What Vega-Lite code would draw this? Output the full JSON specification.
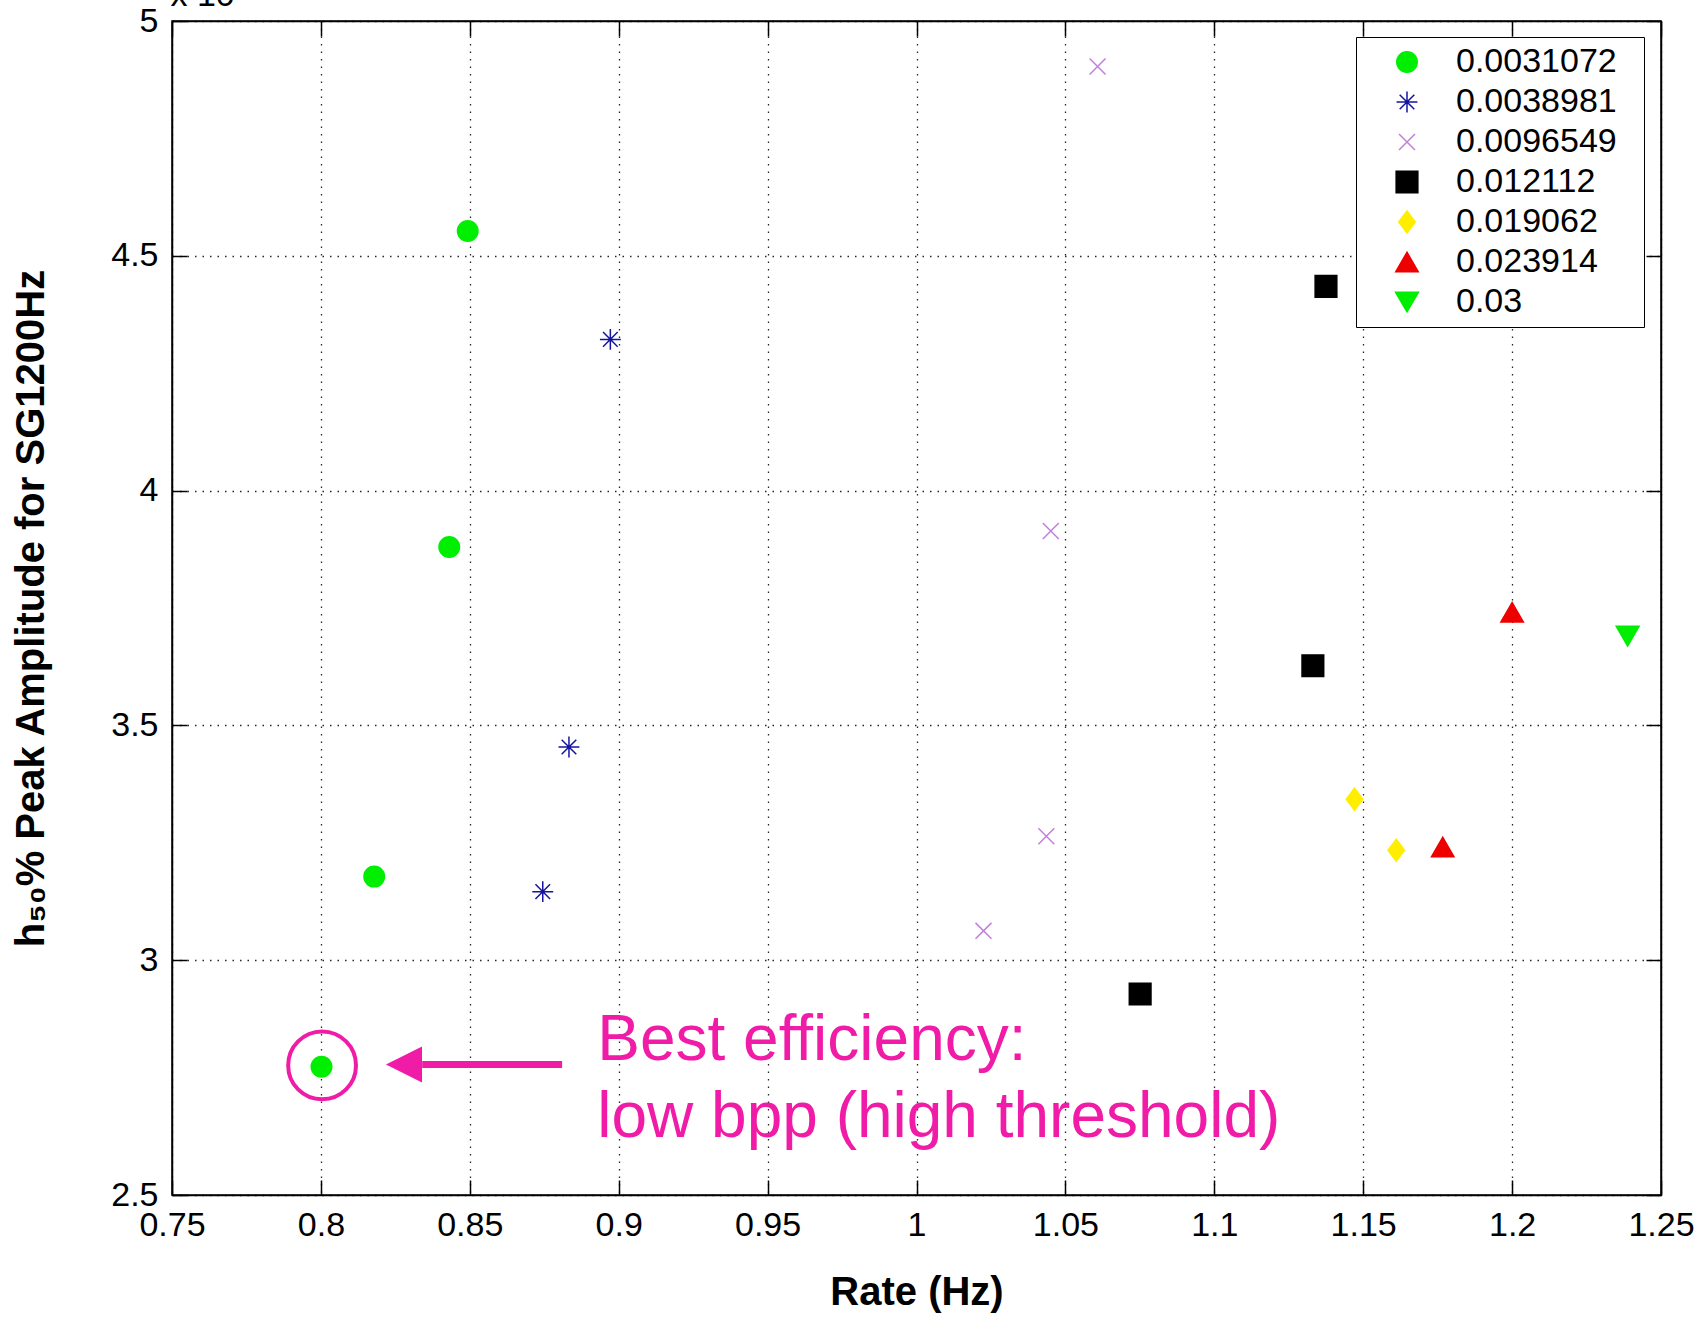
{
  "$schema": "https://vega.github.io/schema/vega-lite/v6.json",
  "width": 1489,
  "height": 1174,
  "autosize": {"type": "none"},
  "padding": {"left": 172, "top": 21, "right": 44, "bottom": 126},
  "background": "white",
  "config": {
    "view": {"stroke": "black", "strokeWidth": 1.5},
    "font": "Liberation Sans",
    "axis": {
      "domainColor": "black", "domainWidth": 1.5,
      "tickColor": "black", "tickWidth": 1.5,
      "labelColor": "black", "labelFontSize": 34, "labelFont": "Liberation Sans",
      "titleFont": "Liberation Sans", "titleFontSize": 40, "titleFontWeight": "bold", "titleColor": "black",
      "gridColor": "black", "gridDash": [1.5, 6], "gridWidth": 1.3, "gridOpacity": 0.85,
      "labelFlush": false, "labelOverlap": false
    },
    "legend": {
      "orient": "none", "legendX": 1184, "legendY": 16,
      "strokeColor": "black", "fillColor": "white",
      "padding": 8, "rowPadding": 6,
      "labelFontSize": 34, "labelFont": "Liberation Sans", "labelColor": "black", "labelLimit": 500,
      "symbolOffset": 26, "labelOffset": 32, "symbolStrokeWidth": 1.5,
      "titleOrient": "right", "titleColor": "white", "titleFontSize": 34, "titlePadding": 9, "titleAngle": 0
    }
  },
  "datasets": {
    "pts": [
      {"bpp": "0.0031072", "rate": 0.8493, "h": 4.553},
      {"bpp": "0.0031072", "rate": 0.8431, "h": 3.880},
      {"bpp": "0.0031072", "rate": 0.8179, "h": 3.178},
      {"bpp": "0.0031072", "rate": 0.8002, "h": 2.773},
      {"bpp": "0.0038981", "rate": 0.8972, "h": 4.322},
      {"bpp": "0.0038981", "rate": 0.8833, "h": 3.454},
      {"bpp": "0.0038981", "rate": 0.8745, "h": 3.146},
      {"bpp": "0.0096549", "rate": 1.0608, "h": 4.903},
      {"bpp": "0.0096549", "rate": 1.0451, "h": 3.914},
      {"bpp": "0.0096549", "rate": 1.0436, "h": 3.264},
      {"bpp": "0.0096549", "rate": 1.0225, "h": 3.0625},
      {"bpp": "0.012112", "rate": 1.1375, "h": 4.435},
      {"bpp": "0.012112", "rate": 1.1331, "h": 3.627},
      {"bpp": "0.012112", "rate": 1.0751, "h": 2.928},
      {"bpp": "0.019062", "rate": 1.1471, "h": 3.343},
      {"bpp": "0.019062", "rate": 1.1611, "h": 3.234},
      {"bpp": "0.023914", "rate": 1.2000, "h": 3.741},
      {"bpp": "0.023914", "rate": 1.1767, "h": 3.241},
      {"bpp": "0.03", "rate": 1.2388, "h": 3.690}
    ],
    "circ": [{"rate": 0.8004, "h": 2.776}],
    "shaft": [{"rate": 0.881, "rate2": 0.834, "h": 2.778}],
    "head": [{"rate": 0.8279, "h": 2.778}],
    "note": [
      {"rate": 0.8928, "h": 2.7875, "label": "Best efficiency:"},
      {"rate": 0.8928, "h": 2.624, "label": "low bpp (high threshold)"}
    ],
    "exp": [{"rate": 0.7495, "h": 5.032, "label": "x 10"}]
  },
  "resolve": {"axis": {"x": "independent", "y": "independent"}},
  "layer": [
    {
      "data": {"name": "pts"},
      "mark": {"type": "point", "filled": true, "strokeWidth": 1.5, "opacity": 1},
      "encoding": {
        "x": {
          "field": "rate", "type": "quantitative",
          "scale": {"domain": [0.75, 1.25], "nice": false, "zero": false},
          "axis": {
            "title": "Rate (Hz)", "values": [0.75, 0.8, 0.85, 0.9, 0.95, 1, 1.05, 1.1, 1.15, 1.2, 1.25],
            "format": "~g", "tickSize": -15, "labelPadding": 28, "grid": true,
            "titleY": 109, "titleBaseline": "alphabetic"
          }
        },
        "y": {
          "field": "h", "type": "quantitative",
          "scale": {"domain": [2.5, 5], "nice": false, "zero": false},
          "axis": {
            "title": "h₅₀% Peak Amplitude for SG1200Hz", "values": [2.5, 3, 3.5, 4, 4.5, 5],
            "format": "~g", "tickSize": -15, "labelPadding": 29, "grid": true,
            "titleX": -129, "titleY": 587, "titleBaseline": "alphabetic", "titleAngle": 270
          }
        },
        "fill": {
          "field": "bpp", "type": "nominal",
          "scale": {
            "domain": ["0.0031072", "0.0038981", "0.0096549", "0.012112", "0.019062", "0.023914", "0.03"],
            "range": ["#00ee00", "#1414a0", "#c080d8", "#000000", "#ffee00", "#ee0000", "#00ee00"]
          },
          "legend": {"title": "."}
        },
        "stroke": {
          "field": "bpp", "type": "nominal",
          "scale": {
            "domain": ["0.0031072", "0.0038981", "0.0096549", "0.012112", "0.019062", "0.023914", "0.03"],
            "range": ["#00ee00", "#1414a0", "#c080d8", "#000000", "#ffee00", "#ee0000", "#00ee00"]
          },
          "legend": {"title": "."}
        },
        "shape": {
          "field": "bpp", "type": "nominal",
          "scale": {
            "domain": ["0.0031072", "0.0038981", "0.0096549", "0.012112", "0.019062", "0.023914", "0.03"],
            "range": ["circle", "M-1,0L1,0M0,-1L0,1M-0.7,-0.7L0.7,0.7M-0.7,0.7L0.7,-0.7", "M-0.75,-0.75L0.75,0.75M-0.75,0.75L0.75,-0.75", "square", "M0,-1L0.75,0L0,1L-0.75,0Z", "triangle-up", "triangle-down"]
          },
          "legend": {"title": "."}
        },
        "size": {
          "field": "bpp", "type": "nominal",
          "scale": {
            "domain": ["0.0031072", "0.0038981", "0.0096549", "0.012112", "0.019062", "0.023914", "0.03"],
            "range": [420, 520, 380, 220, 620, 640, 640]
          },
          "legend": {"title": "."}
        }
      }
    },
    {
      "data": {"name": "pts"},
      "mark": {"type": "point", "opacity": 0},
      "encoding": {
        "x": {
          "field": "rate", "type": "quantitative",
          "scale": {"domain": [0.75, 1.25], "nice": false, "zero": false},
          "axis": {"orient": "top", "title": null, "labels": false, "grid": false, "tickSize": -15,
                   "values": [0.75, 0.8, 0.85, 0.9, 0.95, 1, 1.05, 1.1, 1.15, 1.2, 1.25]}
        },
        "y": {
          "field": "h", "type": "quantitative",
          "scale": {"domain": [2.5, 5], "nice": false, "zero": false},
          "axis": {"orient": "right", "title": null, "labels": false, "grid": false, "tickSize": -15,
                   "values": [2.5, 3, 3.5, 4, 4.5, 5]}
        }
      }
    },
    {
      "data": {"name": "circ"},
      "mark": {"type": "point", "shape": "circle", "filled": false, "stroke": "#f01ca8", "strokeWidth": 4, "size": 4600, "opacity": 1},
      "encoding": {
        "x": {"field": "rate", "type": "quantitative", "scale": {"domain": [0.75, 1.25], "nice": false, "zero": false}, "axis": null},
        "y": {"field": "h", "type": "quantitative", "scale": {"domain": [2.5, 5], "nice": false, "zero": false}, "axis": null}
      }
    },
    {
      "data": {"name": "shaft"},
      "mark": {"type": "rule", "stroke": "#f01ca8", "strokeWidth": 7},
      "encoding": {
        "x": {"field": "rate", "type": "quantitative", "scale": {"domain": [0.75, 1.25], "nice": false, "zero": false}, "axis": null},
        "x2": {"field": "rate2"},
        "y": {"field": "h", "type": "quantitative", "scale": {"domain": [2.5, 5], "nice": false, "zero": false}, "axis": null}
      }
    },
    {
      "data": {"name": "head"},
      "mark": {"type": "point", "shape": "M-1,0L1,-1L1,1Z", "filled": true, "fill": "#f01ca8", "strokeWidth": 0, "size": 1300, "opacity": 1},
      "encoding": {
        "x": {"field": "rate", "type": "quantitative", "scale": {"domain": [0.75, 1.25], "nice": false, "zero": false}, "axis": null},
        "y": {"field": "h", "type": "quantitative", "scale": {"domain": [2.5, 5], "nice": false, "zero": false}, "axis": null}
      }
    },
    {
      "data": {"name": "note"},
      "mark": {"type": "text", "font": "Liberation Sans", "fontSize": 64, "fill": "#f01ca8", "align": "left", "baseline": "alphabetic"},
      "encoding": {
        "x": {"field": "rate", "type": "quantitative", "scale": {"domain": [0.75, 1.25], "nice": false, "zero": false}, "axis": null},
        "y": {"field": "h", "type": "quantitative", "scale": {"domain": [2.5, 5], "nice": false, "zero": false}, "axis": null},
        "text": {"field": "label"}
      }
    },
    {
      "data": {"name": "exp"},
      "mark": {"type": "text", "font": "Liberation Sans", "fontSize": 34, "fill": "black", "align": "left", "baseline": "alphabetic"},
      "encoding": {
        "x": {"field": "rate", "type": "quantitative", "scale": {"domain": [0.75, 1.25], "nice": false, "zero": false}, "axis": null},
        "y": {"field": "h", "type": "quantitative", "scale": {"domain": [2.5, 5], "nice": false, "zero": false}, "axis": null},
        "text": {"field": "label"}
      }
    }
  ]
}
